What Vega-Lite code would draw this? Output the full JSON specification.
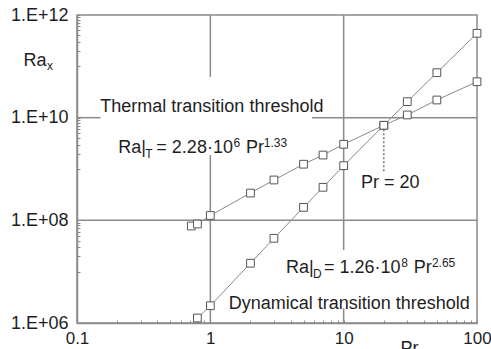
{
  "$schema": "https://vega.github.io/schema/vega-lite/v6.json",
  "width": 400,
  "height": 308,
  "autosize": {"type": "none"},
  "padding": {"left": 77, "top": 15, "right": 14, "bottom": 26},
  "background": "white",
  "config": {
    "view": {"stroke": "#8a8a8a", "strokeWidth": 1.5},
    "font": "Liberation Sans"
  },
  "datasets": {
    "series": [
      {"s": "thermal", "x": 0.72, "y": 77500000},
      {"s": "thermal", "x": 0.8, "y": 84800000},
      {"s": "thermal", "x": 1, "y": 124000000},
      {"s": "thermal", "x": 2, "y": 340000000},
      {"s": "thermal", "x": 3, "y": 611000000},
      {"s": "thermal", "x": 5, "y": 1240000000},
      {"s": "thermal", "x": 7, "y": 1870000000},
      {"s": "thermal", "x": 10, "y": 3030000000},
      {"s": "thermal", "x": 20, "y": 7100000000},
      {"s": "thermal", "x": 30, "y": 11300000000},
      {"s": "thermal", "x": 50, "y": 22100000000},
      {"s": "thermal", "x": 100, "y": 50200000000},
      {"s": "dynamical", "x": 0.8, "y": 1250000},
      {"s": "dynamical", "x": 1, "y": 2170000},
      {"s": "dynamical", "x": 2, "y": 14600000},
      {"s": "dynamical", "x": 3, "y": 44700000},
      {"s": "dynamical", "x": 5, "y": 179000000},
      {"s": "dynamical", "x": 7, "y": 440000000},
      {"s": "dynamical", "x": 10, "y": 1160000000},
      {"s": "dynamical", "x": 20, "y": 7100000000},
      {"s": "dynamical", "x": 30, "y": 20500000000},
      {"s": "dynamical", "x": 50, "y": 75200000000},
      {"s": "dynamical", "x": 100, "y": 440000000000}
    ],
    "grid": [
      {"x": 1, "x2": 1, "y": 1000000000000, "y2": 62000000000},
      {"x": 1, "x2": 1, "y": 1870000000, "y2": 1000000},
      {"x": 10, "x2": 10, "y": 1000000000000, "y2": 26400000},
      {"x": 10, "x2": 10, "y": 1930000, "y2": 1000000},
      {"x": 0.1, "x2": 0.15, "y": 10000000000, "y2": 10000000000},
      {"x": 5.79, "x2": 100, "y": 10000000000, "y2": 10000000000},
      {"x": 0.1, "x2": 100, "y": 100000000, "y2": 100000000}
    ],
    "dotted": [
      {"x": 20, "y": 7100000000, "y2": 874000000}
    ],
    "big": [
      {"t": "Thermal transition threshold", "x": 0.1496, "y": 13180000000},
      {"t": "Ra|", "x": 0.2042, "y": 2050000000},
      {"t": "= 2.28·10", "x": 0.3936, "y": 2050000000},
      {"t": "Pr", "x": 1.85, "y": 2050000000},
      {"t": "Pr = 20", "x": 13.5, "y": 426500000},
      {"t": "Ra|", "x": 3.697, "y": 9540000},
      {"t": "= 1.26·10", "x": 7.12, "y": 9540000},
      {"t": "Pr", "x": 33.6, "y": 9540000},
      {"t": "Dynamical transition threshold", "x": 1.372, "y": 1910000}
    ],
    "small": [
      {"t": "x", "x": 0.0595, "y": 84900000000},
      {"t": "T", "x": 0.3256, "y": 1638000000},
      {"t": "6", "x": 1.49, "y": 2683000000},
      {"t": "1.33", "x": 2.52, "y": 2683000000},
      {"t": "D", "x": 5.89, "y": 7630000},
      {"t": "8", "x": 27.0, "y": 12490000},
      {"t": "2.65", "x": 45.9, "y": 12490000}
    ]
  },
  "encoding": {
    "x": {
      "field": "x",
      "type": "quantitative",
      "scale": {"type": "log", "domain": [0.1, 100], "nice": false},
      "axis": {
        "values": [0.1, 0.2, 0.3, 0.4, 0.5, 0.6, 0.7, 0.8, 0.9, 1, 2, 3, 4, 5, 6, 7, 8, 9, 10, 20, 30, 40, 50, 60, 70, 80, 90, 100],
        "labelExpr": "datum.value == 0.1 ? '0.1' : datum.value == 1 ? '1' : datum.value == 10 ? '10' : datum.value == 100 ? '100' : ''",
        "grid": false,
        "tickSize": -3,
        "tickColor": "#8a8a8a",
        "tickWidth": 1,
        "domainColor": "#8a8a8a",
        "domainWidth": 1.5,
        "labelFontSize": 17,
        "labelColor": "#1e1e1e",
        "labelPadding": 10,
        "labelFlush": false,
        "labelOverlap": false,
        "labelBound": false,
        "title": "Pr",
        "titleX": 323,
        "titleY": 30,
        "titleAlign": "left",
        "titleBaseline": "alphabetic",
        "titleFontSize": 18,
        "titleFontWeight": "normal",
        "titleColor": "#1e1e1e"
      }
    },
    "y": {
      "field": "y",
      "type": "quantitative",
      "scale": {"type": "log", "domain": [1000000, 1000000000000], "nice": false},
      "axis": {
        "values": [1000000, 10000000, 20000000, 30000000, 40000000, 50000000, 60000000, 70000000, 80000000, 90000000, 100000000, 1000000000, 2000000000, 3000000000, 4000000000, 5000000000, 6000000000, 7000000000, 8000000000, 9000000000, 10000000000, 100000000000, 200000000000, 300000000000, 400000000000, 500000000000, 600000000000, 700000000000, 800000000000, 900000000000, 1000000000000],
        "labelExpr": "datum.value == 1e6 ? '1.E+06' : datum.value == 1e8 ? '1.E+08' : datum.value == 1e10 ? '1.E+10' : datum.value == 1e12 ? '1.E+12' : ''",
        "grid": false,
        "tickSize": -3,
        "tickColor": "#8a8a8a",
        "tickWidth": 1,
        "domainColor": "#8a8a8a",
        "domainWidth": 1.5,
        "labelFontSize": 18,
        "labelColor": "#1e1e1e",
        "labelPadding": 12,
        "labelFlush": false,
        "labelOverlap": false,
        "labelBound": false,
        "title": "Ra",
        "titleAngle": 0,
        "titleX": -54,
        "titleY": 50,
        "titleAlign": "left",
        "titleBaseline": "alphabetic",
        "titleFontSize": 18,
        "titleFontWeight": "normal",
        "titleColor": "#1e1e1e"
      }
    }
  },
  "layer": [
    {
      "data": {"name": "grid"},
      "mark": {"type": "rule", "color": "#8a8a8a", "strokeWidth": 1.5},
      "encoding": {"x2": {"field": "x2"}, "y2": {"field": "y2"}}
    },
    {
      "data": {"name": "dotted"},
      "mark": {"type": "rule", "color": "#777777", "strokeWidth": 1.5, "strokeDash": [2, 2]},
      "encoding": {"y2": {"field": "y2"}}
    },
    {
      "data": {"name": "series"},
      "mark": {"type": "line", "color": "#8a8a8a", "strokeWidth": 1},
      "encoding": {"detail": {"field": "s"}}
    },
    {
      "data": {"name": "series"},
      "mark": {"type": "point", "shape": "square", "size": 60, "filled": true, "fill": "white", "stroke": "#555555", "strokeWidth": 1, "opacity": 1},
      "encoding": {"detail": {"field": "s"}}
    },
    {
      "data": {"name": "big"},
      "mark": {"type": "text", "align": "left", "baseline": "alphabetic", "fontSize": 18, "color": "#1e1e1e"},
      "encoding": {"text": {"field": "t"}}
    },
    {
      "data": {"name": "small"},
      "mark": {"type": "text", "align": "left", "baseline": "alphabetic", "fontSize": 12, "color": "#1e1e1e"},
      "encoding": {"text": {"field": "t"}}
    }
  ]
}
